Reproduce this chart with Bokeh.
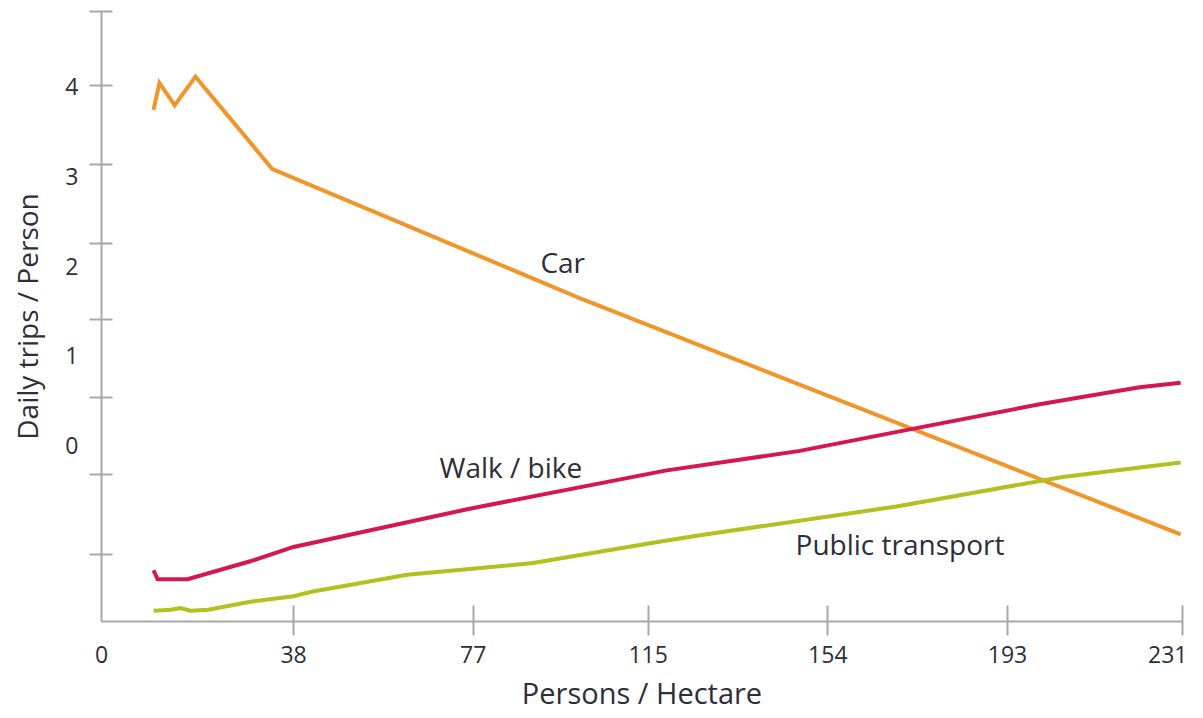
from bokeh.plotting import figure
from bokeh.models import LinearAxis, FixedTicker, Range1d
from bokeh.core.properties import value
from bokeh.embed import file_html
from bokeh.resources import INLINE

# ---- data ----
car_x = [7.6, 8.9, 12.2, 16.7, 33.4, 100.7, 230.6]
car_y = [3.74, 4.04, 3.79, 4.11, 3.08, 1.63, -0.99]

walk_x = [7.6, 8.5, 15.0, 28.6, 38.0, 75.7, 118.7, 147.9, 171.8, 200.0, 221.7, 230.6]
walk_y = [-1.39, -1.49, -1.49, -1.29, -1.13, -0.71, -0.28, -0.06, 0.18, 0.46, 0.65, 0.70]

pt_x = [7.6, 11.3, 13.5, 15.6, 19.5, 28.6, 38.0, 41.9, 62.7, 90.0, 115.4, 126.2, 168.9, 205.0, 230.6]
pt_y = [-1.84, -1.83, -1.81, -1.84, -1.83, -1.74, -1.68, -1.63, -1.44, -1.31, -1.09, -1.00, -0.68, -0.35, -0.19]

series_names = ["Car", "Walk / bike", "Public transport"]
series_label_x = [91.6, 69.7, 147.0]
series_label_y = [2.05, -0.24, -1.10]

X_START, X_END = -3.69, 231
Y_START, Y_END = -1.961, 4.836

x_ticks = [38, 77, 115, 154, 193, 231]
x_zero_label = "0"
y_label_ticks = [0, 1, 2, 3, 4]
y_mark_ticks = [4.836, 4.011, 3.131, 2.251, 1.404, 0.535, -0.323, -1.214]

x_title = "Persons / Hectare"
y_title = "Daily trips / Person"

# ---- styles ----
FONT = "Open Sans"
AXIS_GRAY = "#a8a8a8"
TEXT = "#2e2e3a"
COLORS = ["#f29428", "#d6174f", "#b3c01d"]

p = figure(frame_width=1081, frame_height=610,
           x_range=Range1d(X_START, X_END), y_range=Range1d(Y_START, Y_END),
           output_backend="svg", toolbar_location=None,
           x_axis_location=None, y_axis_location=None,
           min_border_left=101, min_border_right=5, min_border_top=11, min_border_bottom=0)
p.outline_line_color = None
p.xgrid.visible = False
p.ygrid.visible = False
p.background_fill_color = "white"
p.border_fill_color = "white"

# x axis: tick marks (inner)
xm = LinearAxis(ticker=FixedTicker(ticks=x_ticks),
                major_label_overrides={t: "" for t in x_ticks},
                major_label_text_font_size="0px", major_label_standoff=0,
                axis_line_color=AXIS_GRAY, axis_line_width=2,
                major_tick_line_color=AXIS_GRAY, major_tick_line_width=2,
                major_tick_in=16, major_tick_out=14, minor_tick_line_color=None)
p.add_layout(xm, "below")

# x axis: labels (outer)
xl_ticks = [X_START] + x_ticks
xl = LinearAxis(ticker=FixedTicker(ticks=xl_ticks),
                major_label_overrides={X_START: x_zero_label},
                axis_line_color=None, major_tick_line_color=None,
                major_tick_in=0, major_tick_out=0, minor_tick_line_color=None,
                major_label_standoff=10,
                major_label_text_font=FONT, major_label_text_font_size="23px",
                major_label_text_color=TEXT,
                axis_label=x_title, axis_label_text_font=FONT,
                axis_label_text_font_size="29px", axis_label_text_font_style="normal",
                axis_label_text_color=TEXT, axis_label_standoff=7)
p.add_layout(xl, "below")

# y axis: tick marks (inner)
ym = LinearAxis(ticker=FixedTicker(ticks=y_mark_ticks),
                major_label_overrides={t: "" for t in y_mark_ticks},
                major_label_text_font_size="0px", major_label_standoff=0,
                axis_line_color=AXIS_GRAY, axis_line_width=2,
                major_tick_line_color=AXIS_GRAY, major_tick_line_width=2,
                major_tick_in=11, major_tick_out=12, minor_tick_line_color=None)
p.add_layout(ym, "left")

# y axis: labels (outer)
yl = LinearAxis(ticker=FixedTicker(ticks=y_label_ticks),
                axis_line_color=None, major_tick_line_color=None,
                major_tick_in=0, major_tick_out=0, minor_tick_line_color=None,
                major_label_standoff=11,
                major_label_text_font=FONT, major_label_text_font_size="23px",
                major_label_text_color=TEXT,
                axis_label=y_title, axis_label_text_font=FONT,
                axis_label_text_font_size="28px", axis_label_text_font_style="normal",
                axis_label_text_color=TEXT, axis_label_standoff=16)
p.add_layout(yl, "left")

# lines
for xs, ys, c in zip([car_x, walk_x, pt_x], [car_y, walk_y, pt_y], COLORS):
    p.line(xs, ys, line_color=c, line_width=4, line_join="miter")

# series labels
p.text(x=series_label_x, y=series_label_y, text=series_names,
       text_font=value(FONT), text_font_size="28px", text_color=TEXT,
       text_align="left", text_baseline="alphabetic")

open("out.html", "w").write(file_html(p, INLINE))
